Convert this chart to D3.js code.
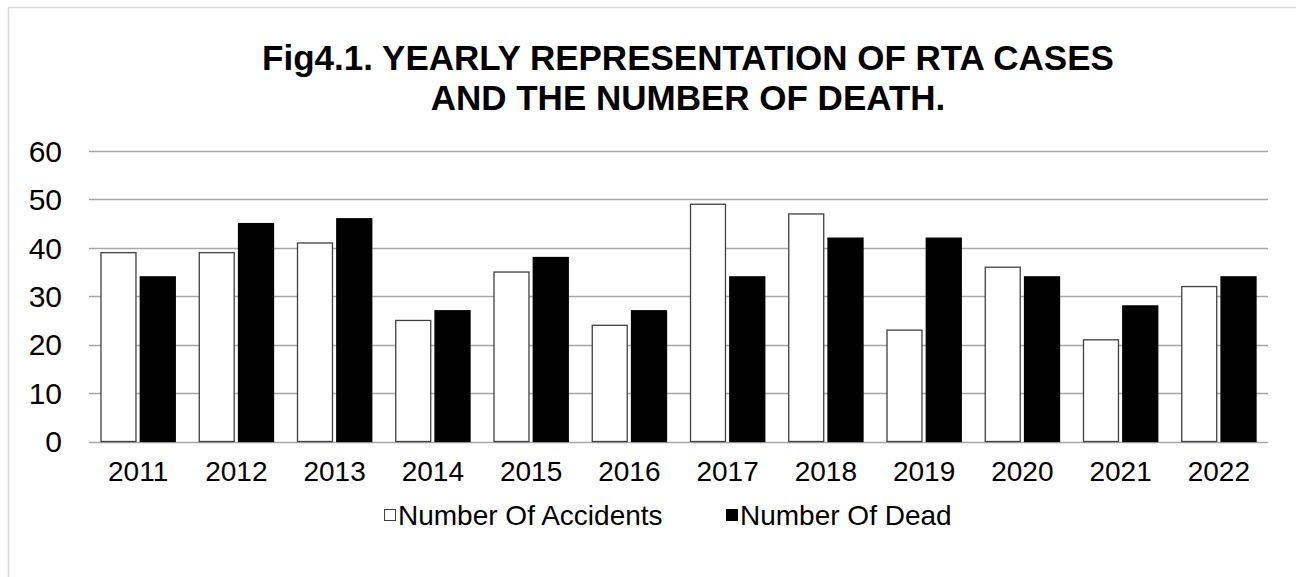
<!DOCTYPE html>
<html>
<head>
<meta charset="utf-8">
<script src="https://cdn.jsdelivr.net/npm/d3@7"></script>
<style>
  body { margin: 0; background: #fff; }
  text { font-family: "Liberation Sans", Arial, sans-serif; }
</style>
</head>
<body>
<div id="chart"></div>
<script>
// data
var years = ["2011", "2012", "2013", "2014", "2015", "2016", "2017", "2018", "2019", "2020", "2021", "2022"];
var accidents = [39, 39, 41, 25, 35, 24, 49, 47, 23, 36, 21, 32];
var dead = [34, 45, 46, 27, 38, 27, 34, 42, 42, 34, 28, 34];
var seriesNames = ["Number Of Accidents", "Number Of Dead"];
var yTicks = [0, 10, 20, 30, 40, 50, 60];

var W = 1296, H = 577;
var plotL = 89, plotR = 1268, plotT = 151, plotB = 441.5;

var svg = d3.select("#chart").append("svg")
  .attr("width", W).attr("height", H);

// outer chart border
svg.append("rect")
  .attr("x", 8.5).attr("y", 7.5)
  .attr("width", W + 20).attr("height", H + 20)
  .attr("fill", "#fff")
  .attr("stroke", "#d9d9d9")
  .attr("stroke-width", 1.5);

// title
var title = svg.append("text")
  .attr("text-anchor", "middle")
  .attr("font-size", 35)
  .attr("font-weight", "bold")
  .attr("fill", "#000");
title.append("tspan").attr("x", 688).attr("y", 70).text("Fig4.1. YEARLY REPRESENTATION OF RTA CASES");
title.append("tspan").attr("x", 688).attr("y", 110).text("AND THE NUMBER OF DEATH.");

var x = d3.scaleBand().domain(years).range([plotL, plotR]).paddingInner(0).paddingOuter(0);
var x1 = d3.scaleBand().domain([0, 1]).range([12, x.bandwidth() - 12]).paddingInner(0.11);
var y = d3.scaleLinear().domain([0, 60]).range([plotB, plotT]);

// gridlines
svg.append("g").selectAll("line")
  .data(yTicks)
  .join("line")
  .attr("x1", plotL).attr("x2", plotR)
  .attr("y1", function(d) { return Math.round(y(d)) + 0.5; })
  .attr("y2", function(d) { return Math.round(y(d)) + 0.5; })
  .attr("stroke", "#a6a6a6")
  .attr("stroke-width", 1.3);

// y labels
svg.append("g").selectAll("text")
  .data(yTicks)
  .join("text")
  .attr("x", 62)
  .attr("y", function(d) { return y(d); })
  .attr("dy", "0.36em")
  .attr("text-anchor", "end")
  .attr("font-size", 30)
  .attr("fill", "#000")
  .text(function(d) { return d; });

// bars
var rows = years.map(function(yr, i) { return { year: yr, vals: [accidents[i], dead[i]] }; });
var groups = svg.append("g").selectAll("g")
  .data(rows)
  .join("g")
  .attr("transform", function(d) { return "translate(" + x(d.year) + ",0)"; });

groups.selectAll("rect")
  .data(function(d) { return d.vals.map(function(v, k) { return { k: k, v: v }; }); })
  .join("rect")
  .attr("x", function(d) { return x1(d.k); })
  .attr("width", x1.bandwidth())
  .attr("y", function(d) { return y(d.v); })
  .attr("height", function(d) { return y(0) - y(d.v); })
  .attr("fill", function(d) { return d.k === 0 ? "#fff" : "#000"; })
  .attr("stroke", function(d) { return d.k === 0 ? "#404040" : "#000"; })
  .attr("stroke-width", 1.3);

// x labels
svg.append("g").selectAll("text")
  .data(years)
  .join("text")
  .attr("x", function(d) { return x(d) + x.bandwidth() / 2; })
  .attr("y", 481)
  .attr("text-anchor", "middle")
  .attr("font-size", 28)
  .attr("fill", "#000")
  .text(function(d) { return d; });

// legend
var legendX = [384, 726];
var legend = svg.append("g").selectAll("g")
  .data(seriesNames)
  .join("g")
  .attr("transform", function(d, i) { return "translate(" + legendX[i] + ",515)"; });
legend.append("rect")
  .attr("x", 0.5).attr("y", -5.5)
  .attr("width", 11).attr("height", 11)
  .attr("fill", function(d, i) { return i === 0 ? "#fff" : "#000"; })
  .attr("stroke", function(d, i) { return i === 0 ? "#404040" : "#000"; })
  .attr("stroke-width", 1);
legend.append("text")
  .attr("x", 14)
  .attr("y", 0)
  .attr("dy", "0.36em")
  .attr("font-size", 28)
  .attr("fill", "#000")
  .text(function(d) { return d; });
</script>
</body>
</html>
